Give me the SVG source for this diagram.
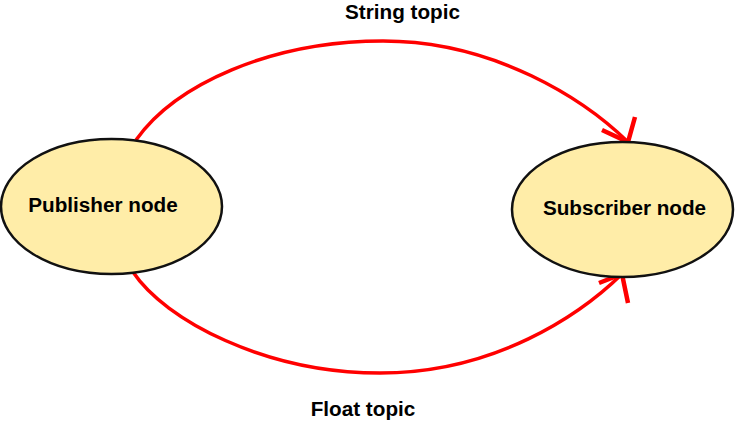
<svg xmlns="http://www.w3.org/2000/svg" width="735" height="421" viewBox="0 0 735 421">
<style>
.node{fill:#FFEDA8;stroke:#111;stroke-width:2.5}
.lbl{font-family:"Liberation Sans",Arial,sans-serif;font-weight:bold;font-size:20.7px;fill:#000;text-anchor:middle}
.edge{fill:none;stroke:#FF0000;stroke-width:3.5}
.head{fill:none;stroke:#FF0000;stroke-width:4.5;stroke-linejoin:miter;stroke-linecap:butt}
</style>
<rect width="735" height="421" fill="#fff"/>
<g id="connectors">
<path class="edge" d="M136,140 C175,85 270,41 383,41 C495,41 585,100 628,142"/>
<path class="head" d="M602,130 L628,142 L635,117"/>
<path class="edge" d="M133,272 C165,320 265,373 380,373 C495,373 580,315 622,274"/>
<path class="head" d="M599,283 L622,274 L628,303"/>
<text class="lbl" x="402.5" y="19">String topic</text>
<text class="lbl" x="363" y="416">Float topic</text>
</g>
<g id="publisher">
<ellipse class="node" cx="111.5" cy="206.5" rx="110.5" ry="67.5"/>
<text class="lbl" x="103" y="212">Publisher node</text>
</g>
<g id="subscriber">
<ellipse class="node" cx="622.5" cy="209.5" rx="110.5" ry="67.5"/>
<text class="lbl" x="624.5" y="215">Subscriber node</text>
</g>
</svg>
